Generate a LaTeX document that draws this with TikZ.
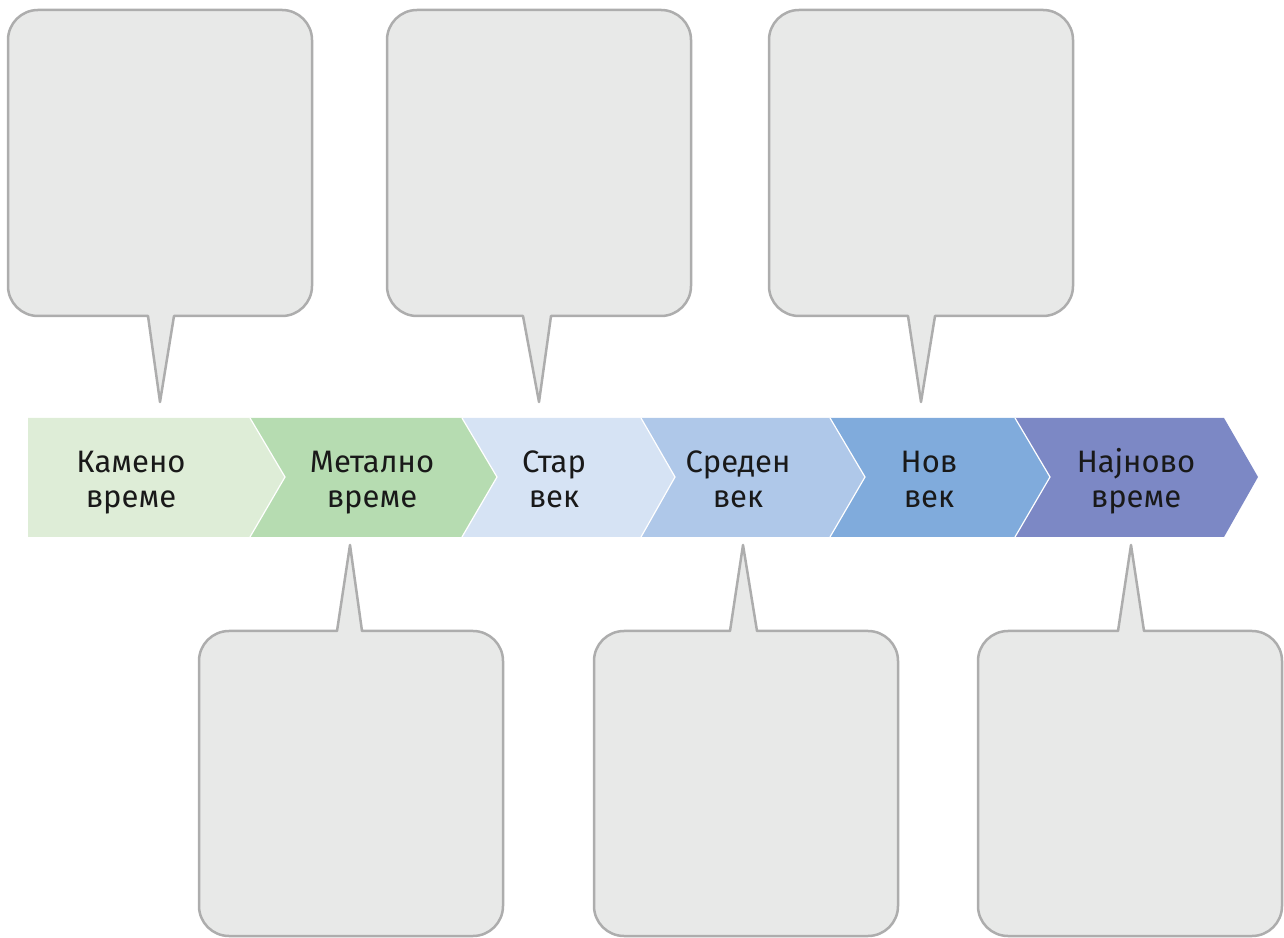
\documentclass[tikz,border=0pt]{standalone}
\usepackage{fontspec}
\setmainfont{Fira Sans}
\definecolor{cfill}{HTML}{E8E9E8}
\definecolor{cline}{HTML}{ADADAD}
\definecolor{sA}{HTML}{DEEDD7}
\definecolor{sB}{HTML}{B6DCB1}
\definecolor{sC}{HTML}{D6E3F4}
\definecolor{sD}{HTML}{AFC8E9}
\definecolor{sE}{HTML}{80ABDC}
\definecolor{sF}{HTML}{7C88C5}
\tikzset{
  callout/.style={fill=cfill, draw=cline, line width=2.5pt, line join=round},
  seg/.style={draw=white, line width=1.2pt, line join=miter},
  lbl/.style={font=\fontsize{31}{35}\selectfont, align=center, text=black!90, inner sep=0pt}
}
% top callout: #1 = left x, #2 = tail base left, #3 = tail base right, #4 = tip x
\newcommand\topcall[4]{%
  \draw[callout] (#3,621) -- ({#1+304-30},621) arc[start angle=270,end angle=360,radius=30]
    -- ({#1+304},897) arc[start angle=0,end angle=90,radius=30]
    -- ({#1+30},927) arc[start angle=90,end angle=180,radius=30]
    -- (#1,651) arc[start angle=180,end angle=270,radius=30]
    -- (#2,621) -- (#4,535) -- cycle;}
% bottom callout
\newcommand\botcall[4]{%
  \draw[callout] (#2,306) -- ({#1+30},306) arc[start angle=90,end angle=180,radius=30]
    -- (#1,31) arc[start angle=180,end angle=270,radius=30]
    -- ({#1+304-30},1) arc[start angle=270,end angle=360,radius=30]
    -- ({#1+304},276) arc[start angle=0,end angle=90,radius=30]
    -- (#3,306) -- (#4,392) -- cycle;}
\begin{document}
\begin{tikzpicture}[x=1pt,y=1pt]
\useasboundingbox (0,0) rectangle (1284,937);
% callouts
\topcall{8}{148}{174}{160}
\topcall{387}{523}{551}{539}
\topcall{769}{908}{935}{921}
\botcall{199}{337}{362}{350}
\botcall{594}{730}{757}{743}
\botcall{978}{1118}{1144}{1131}
% band segments
\fill[sA] (28,519) -- (250,519) -- (285,460) -- (250,400) -- (28,400) -- cycle;
\fill[sB] (250,519) -- (462,519) -- (497,460) -- (462,400) -- (250,400) -- (285,460) -- cycle;
\fill[sC] (462,519) -- (641,519) -- (675,460) -- (641,400) -- (462,400) -- (497,460) -- cycle;
\fill[sD] (641,519) -- (830,519) -- (865,460) -- (830,400) -- (641,400) -- (675,460) -- cycle;
\fill[sE] (830,519) -- (1015,519) -- (1050,460) -- (1015,400) -- (830,400) -- (865,460) -- cycle;
\fill[sF] (1015,519) -- (1224,519) -- (1258,460) -- (1224,400) -- (1015,400) -- (1050,460) -- cycle;
\draw[seg] (250,519) -- (285,460) -- (250,400);
\draw[seg] (462,519) -- (497,460) -- (462,400);
\draw[seg] (641,519) -- (675,460) -- (641,400);
\draw[seg] (830,519) -- (865,460) -- (830,400);
\draw[seg] (1015,519) -- (1050,460) -- (1015,400);
% labels
\node[lbl, anchor=base] (l1) at (131,464) {Камено};
\node[lbl, anchor=base] (l1b) at (131,429) {време};
\node[lbl, anchor=base] (l2) at (372,464) {Метално};
\node[lbl, anchor=base] (l2b) at (372,429) {време};
\node[lbl, anchor=base] (l3) at (554,464) {Стар};
\node[lbl, anchor=base] (l3b) at (554,429) {век};
\node[lbl, anchor=base] (l4) at (738,464) {Среден};
\node[lbl, anchor=base] (l4b) at (738,429) {век};
\node[lbl, anchor=base] (l5) at (929,464) {Нов};
\node[lbl, anchor=base] (l5b) at (929,429) {век};
\node[lbl, anchor=base] (l6) at (1136,464) {Најново};
\node[lbl, anchor=base] (l6b) at (1136,429) {време};
\end{tikzpicture}
\end{document}
